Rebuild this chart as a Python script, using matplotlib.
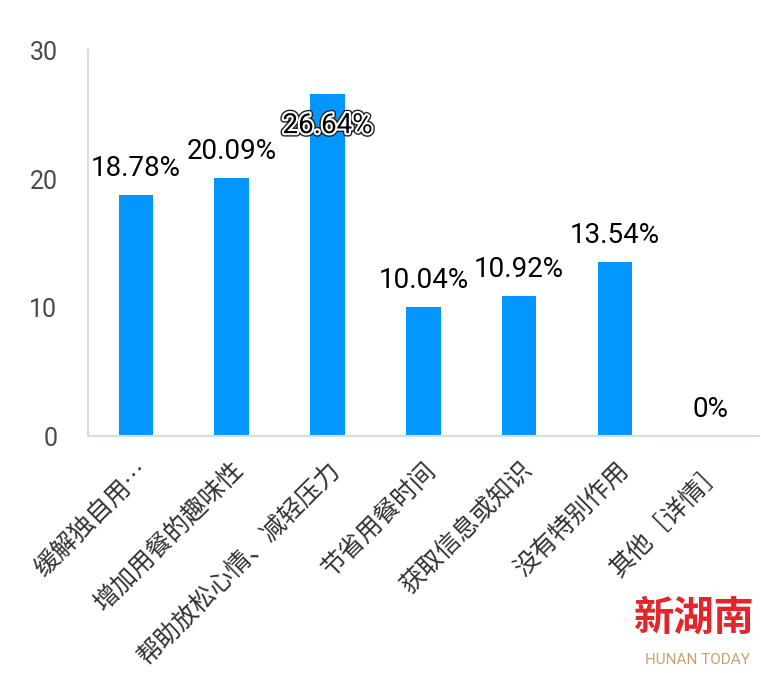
import matplotlib.pyplot as plt
import matplotlib.patheffects as pe

categories = ["缓解独自用…", "增加用餐的趣味性", "帮助放松心情、减轻压力", "节省用餐时间",
              "获取信息或知识", "没有特别作用", "其他［详情］"]
values = [18.78, 20.09, 26.64, 10.04, 10.92, 13.54, 0]
labels = ["18.78%", "20.09%", "26.64%", "10.04%", "10.92%", "13.54%", "0%"]
yticks = [0, 10, 20, 30]

plt.rcParams['font.family'] = ['Roboto', 'Noto Sans CJK SC', 'DejaVu Sans']

fig = plt.figure(figsize=(7.61, 6.73), dpi=100)
ax = fig.add_axes([0.1156, 0.352, 0.8814, 0.573])

x = list(range(len(categories)))
ax.bar(x, values, width=0.36, color="#0396FF", zorder=2)

for i, (v, lab) in enumerate(zip(values, labels)):
    # the tallest label sits inside the top of its bar, with an outline
    if i == 2:
        t = ax.annotate(lab, (i, v), xytext=(0, -23), textcoords="offset points",
                        ha="center", va="center", fontsize=20, color="black", zorder=3)
        t.set_path_effects([pe.withStroke(linewidth=5, foreground="#222222"),
                            pe.withStroke(linewidth=3, foreground="white")])
    else:
        ax.annotate(lab, (i, v), xytext=(0, 19), textcoords="offset points",
                    ha="center", va="center", fontsize=20, color="black", zorder=3)

ax.set_xlim(-0.5, len(categories) - 0.5)
ax.set_ylim(0, 30)
ax.set_yticks(yticks)
ax.set_yticklabels([str(t) for t in yticks], fontsize=18, color="#4a4a4a")
ax.tick_params(axis="y", length=0, pad=22)
ax.set_xticks(x)
ax.set_xticklabels(categories, rotation=45, ha="right", va="top", rotation_mode="anchor",
                   fontsize=18, color="#333333", family=["Noto Sans CJK SC", "DejaVu Sans"])
ax.tick_params(axis="x", length=0, pad=15)

for s in ["top", "right"]:
    ax.spines[s].set_visible(False)
ax.spines["left"].set_color("#d5dce8")
ax.spines["bottom"].set_color("#d5dce8")
ax.spines["left"].set_linewidth(1.5)
ax.spines["bottom"].set_linewidth(1.5)

# watermark
fig.text(0.913, 0.082, "新湖南", ha="center", va="center", fontsize=29, color="#E3262B",
         fontweight="bold", style="italic", family=["Noto Sans CJK SC"])
fig.text(0.916, 0.019, "HUNAN TODAY", ha="center", va="center", fontsize=11, color="#C8A26C")

fig.savefig("out.png", dpi=100)
